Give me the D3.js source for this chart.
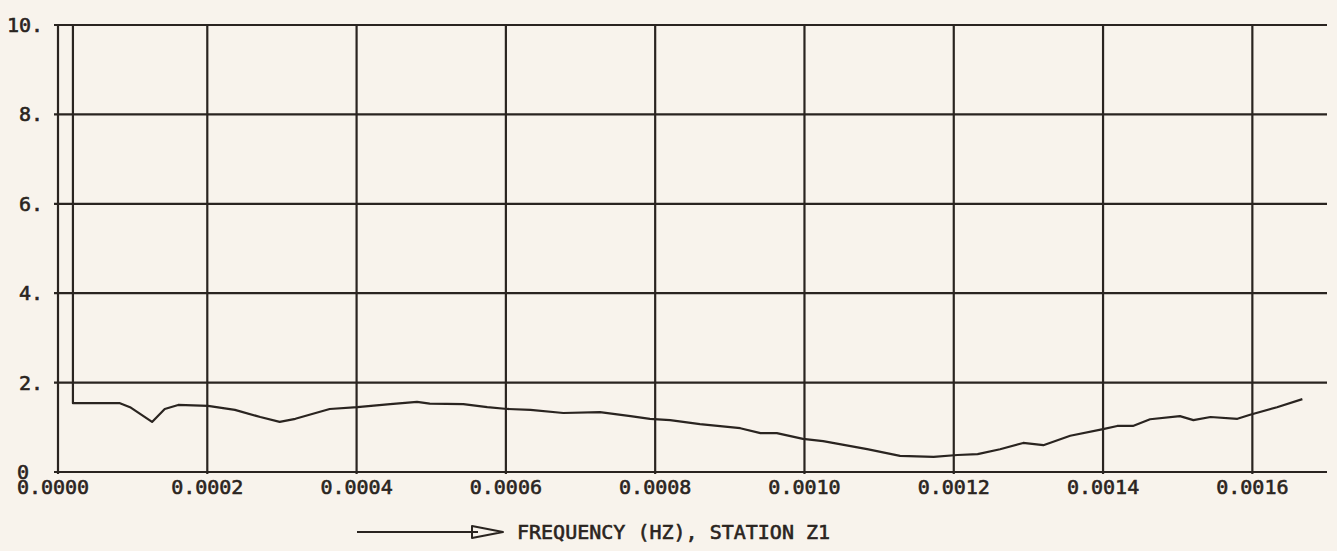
<!DOCTYPE html>
<html><head><meta charset="utf-8">
<script src="https://cdn.jsdelivr.net/npm/d3@7"></script>
<style>
html,body{margin:0;padding:0;background:#f8f3ec;}
svg{display:block;}
text{font-family:"DejaVu Sans Mono","Liberation Mono",monospace;fill:#2a2420;stroke:#2a2420;stroke-width:0.6px;}
</style></head>
<body>
<svg id="c" width="1337" height="551"></svg>
<script>
const freq = [0.00002,0.00002,0.000083,0.0000965,0.000126,0.000143,0.000161,0.000201,0.000237,0.000271,0.000297,0.000318,0.000364,0.000401,0.000445,0.000481,0.000498,0.000543,0.000575,0.000602,0.000633,0.000677,0.000726,0.000767,0.000793,0.000820,0.000860,0.000914,0.000941,0.000963,0.000998,0.001025,0.001084,0.001128,0.001173,0.001205,0.001232,0.001262,0.001293,0.001320,0.001356,0.001400,0.001419,0.001440,0.001463,0.001503,0.001521,0.001544,0.001580,0.001597,0.001633,0.001667];
const amp = [10,1.54,1.54,1.45,1.12,1.41,1.50,1.48,1.39,1.23,1.12,1.19,1.41,1.45,1.52,1.57,1.53,1.52,1.45,1.41,1.39,1.32,1.34,1.25,1.19,1.16,1.07,0.98,0.87,0.87,0.74,0.69,0.51,0.36,0.34,0.38,0.40,0.51,0.65,0.60,0.81,0.96,1.03,1.03,1.18,1.25,1.16,1.23,1.19,1.28,1.45,1.63];
const xTicks = [0,0.0002,0.0004,0.0006,0.0008,0.0010,0.0012,0.0014,0.0016];
const xTickLabels = ["0.0000","0.0002","0.0004","0.0006","0.0008","0.0010","0.0012","0.0014","0.0016"];
const yTicks = [0,2,4,6,8,10];
const yTickLabels = ["0","2.","4.","6.","8.","10."];
const axisTitle = "FREQUENCY (HZ), STATION Z1";

const ink = "#2a2420";
const svg = d3.select("#c");
const x = d3.scaleLinear().domain([0,0.0017]).range([58,1327]);
const y = d3.scaleLinear().domain([0,10]).range([472,25]);

// horizontal grid lines (with small left tick)
svg.append("g").selectAll("line").data(yTicks).join("line")
  .attr("x1",54).attr("x2",x(0.0017))
  .attr("y1",d=>y(d)).attr("y2",d=>y(d))
  .attr("stroke",ink).attr("stroke-width",2.2);
// vertical grid lines
svg.append("g").selectAll("line").data(xTicks).join("line")
  .attr("x1",d=>x(d)).attr("x2",d=>x(d))
  .attr("y1",y(10)).attr("y2",y(0)+2)
  .attr("stroke",ink).attr("stroke-width",2.2);

// y labels
svg.append("g").selectAll("text").data(yTicks).join("text")
  .attr("x",(d,i)=> d===0 ? 29 : 43)
  .attr("y",d=> d===0 ? y(d)+7 : y(d)+7)
  .attr("text-anchor","end")
  .attr("font-size",20)
  .text((d,i)=>yTickLabels[i]);

// x labels
svg.append("g").selectAll("text").data(xTicks).join("text")
  .attr("x",d=> d===0 ? x(d)-5 : x(d))
  .attr("y",494)
  .attr("text-anchor","middle")
  .attr("font-size",20)
  .text((d,i)=>xTickLabels[i]);

// curve
const line = d3.line().x((d,i)=>x(freq[i])).y((d,i)=>y(amp[i])).curve(d3.curveMonotoneX);
svg.append("path").datum(amp).attr("d",d3.line().x((d,i)=>x(freq[i])).y((d,i)=>y(amp[i])))
  .attr("fill","none").attr("stroke",ink).attr("stroke-width",2.2).attr("stroke-linejoin","round");

// axis title with arrow
svg.append("line").attr("x1",357).attr("x2",478).attr("y1",532).attr("y2",532)
  .attr("stroke",ink).attr("stroke-width",2);
svg.append("path").attr("d","M472,526 L503,532 L472,538 Z")
  .attr("fill","none").attr("stroke",ink).attr("stroke-width",2).attr("stroke-linejoin","round");
svg.append("text").attr("x",517).attr("y",539).attr("font-size",20).text(axisTitle);
</script>
</body></html>
